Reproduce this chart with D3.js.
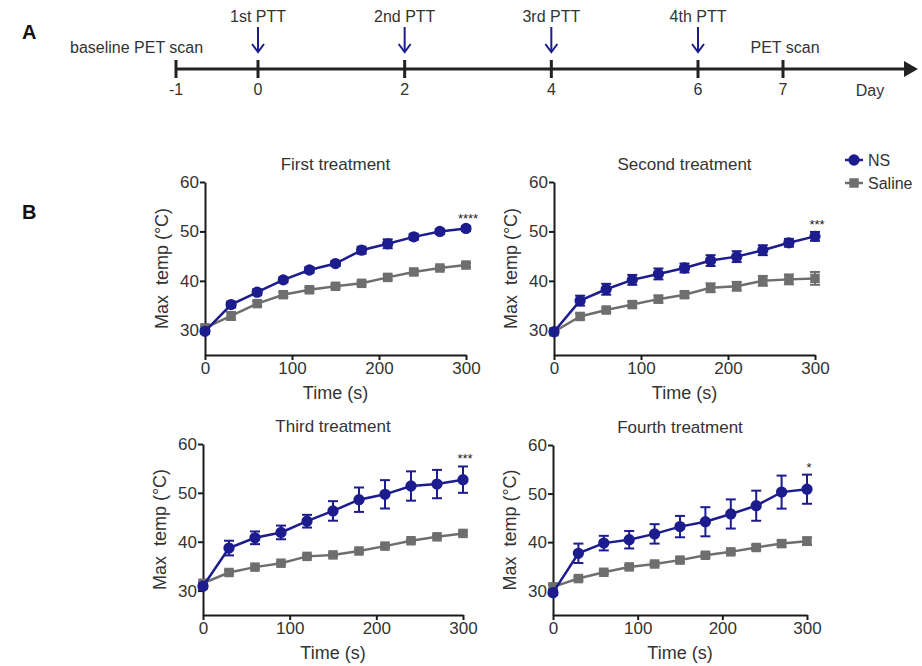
<!DOCTYPE html>
<html>
<head>
<meta charset="utf-8">
<script src="https://cdn.jsdelivr.net/npm/d3@7"></script>
<style>
  body { margin: 0; background: #fff; }
  svg text { font-family: "Liberation Sans", Arial, sans-serif; fill: #333; }
</style>
</head>
<body>
<div id="viz"></div>
<script>
// ---- data ----
var timelineDays = [-1, 0, 2, 4, 6, 7];
var pttDays = [0, 2, 4, 6];
var pttLabels = ["1st PTT", "2nd PTT", "3rd PTT", "4th PTT"];

var times = [0, 30, 60, 90, 120, 150, 180, 210, 240, 270, 300];
var yTicks = [30, 40, 50, 60];
var xTicks = [0, 100, 200, 300];

var panelTitles = ["First treatment", "Second treatment", "Third treatment", "Fourth treatment"];
var stars = ["****", "***", "***", "*"];
var seriesNames = ["NS", "Saline"];

var nsFirst        = [29.8, 35.2, 37.7, 40.2, 42.2, 43.5, 46.2, 47.5, 48.9, 50.0, 50.6];
var nsFirstErr     = [0.5, 0.6, 0.6, 0.5, 0.6, 0.5, 0.7, 0.9, 0.6, 0.5, 0.5];
var salFirst       = [30.5, 32.9, 35.4, 37.2, 38.2, 38.9, 39.5, 40.7, 41.8, 42.6, 43.2];
var salFirstErr    = [0.4, 0.8, 0.5, 0.5, 0.5, 0.4, 0.4, 0.5, 0.5, 0.4, 0.4];

var nsSecond       = [29.7, 36.0, 38.3, 40.2, 41.4, 42.6, 44.1, 44.9, 46.2, 47.7, 49.0];
var nsSecondErr    = [0.4, 1.0, 1.1, 1.0, 1.1, 0.9, 1.1, 1.1, 1.0, 0.8, 0.9];
var salSecond      = [29.7, 32.8, 34.1, 35.2, 36.3, 37.2, 38.6, 38.9, 40.0, 40.3, 40.5];
var salSecondErr   = [0.4, 0.6, 0.5, 0.6, 0.7, 0.6, 0.9, 0.9, 1.0, 1.0, 1.3];

var nsThird        = [30.9, 38.7, 40.8, 41.9, 44.2, 46.3, 48.6, 49.7, 51.4, 51.8, 52.7];
var nsThirdErr     = [0.5, 1.5, 1.3, 1.4, 1.3, 2.0, 2.5, 2.9, 3.0, 2.9, 2.7];
var salThird       = [31.5, 33.7, 34.8, 35.6, 37.0, 37.3, 38.1, 39.1, 40.2, 41.0, 41.7];
var salThirdErr    = [0.3, 0.4, 0.3, 0.3, 0.3, 0.3, 0.3, 0.3, 0.3, 0.3, 0.4];

var nsFourth       = [29.6, 37.7, 39.8, 40.5, 41.7, 43.2, 44.2, 45.8, 47.5, 50.3, 50.9];
var nsFourthErr    = [0.5, 2.0, 1.5, 1.8, 2.0, 2.2, 3.0, 3.0, 3.1, 3.4, 3.0];
var salFourth      = [30.8, 32.5, 33.8, 34.9, 35.5, 36.3, 37.3, 38.0, 38.9, 39.7, 40.2];
var salFourthErr   = [0.5, 0.4, 0.4, 0.4, 0.4, 0.4, 0.4, 0.4, 0.5, 0.6, 0.8];

// ---- layout ----
var W = 922, H = 666;
var nsColor = "#1c1c8f", salColor = "#6e6e6e", axisColor = "#1a1a1a";

var panels = [
  {x0: 205, x1: 466, yTop: 182, yBot: 355, ns: nsFirst, nsErr: nsFirstErr, sal: salFirst, salErr: salFirstErr},
  {x0: 554, x1: 815, yTop: 182, yBot: 355, ns: nsSecond, nsErr: nsSecondErr, sal: salSecond, salErr: salSecondErr},
  {x0: 203, x1: 463, yTop: 444, yBot: 615, ns: nsThird, nsErr: nsThirdErr, sal: salThird, salErr: salThirdErr},
  {x0: 553, x1: 807, yTop: 445, yBot: 615, ns: nsFourth, nsErr: nsFourthErr, sal: salFourth, salErr: salFourthErr}
];

var svg = d3.select("#viz")
  .append("svg")
  .attr("width", W)
  .attr("height", H);

// ---- panel A: timeline ----
var tl = d3.scaleLinear()
  .domain([-1, 0, 6, 7])
  .range([176, 258, 698, 783]);
var lineY = 69;

svg.append("text").text("A")
  .attr("x", 22).attr("y", 39)
  .style("font-size", "20px").style("font-weight", "bold").style("fill", "#111");

svg.append("line")
  .attr("x1", tl(-1)).attr("x2", 906)
  .attr("y1", lineY).attr("y2", lineY)
  .attr("stroke", "#222").attr("stroke-width", 3);
svg.append("path")
  .attr("d", "M904," + (lineY - 8) + " L918," + lineY + " L904," + (lineY + 8) + " Z")
  .attr("fill", "#222");

svg.selectAll(".dayTick").data(timelineDays).enter()
  .append("line")
  .attr("class", "dayTick")
  .attr("x1", function(d) { return tl(d); })
  .attr("x2", function(d) { return tl(d); })
  .attr("y1", lineY - 9).attr("y2", lineY + 9)
  .attr("stroke", "#222").attr("stroke-width", 3);

svg.selectAll(".dayLabel").data(timelineDays).enter()
  .append("text")
  .attr("class", "dayLabel")
  .attr("x", function(d) { return tl(d); })
  .attr("y", 95)
  .attr("text-anchor", "middle")
  .style("font-size", "16px")
  .text(function(d) { return d; });

svg.append("text").text("Day")
  .attr("x", 870).attr("y", 96).attr("text-anchor", "middle")
  .style("font-size", "16px");

svg.append("text").text("baseline PET scan")
  .attr("x", 70).attr("y", 53)
  .style("font-size", "16px");
svg.append("text").text("PET scan")
  .attr("x", tl(7) + 2).attr("y", 53).attr("text-anchor", "middle")
  .style("font-size", "16px");

// treatment arrows
var arrows = svg.selectAll(".ptt").data(pttDays).enter()
  .append("g")
  .attr("class", "ptt")
  .attr("transform", function(d) { return "translate(" + tl(d) + ",0)"; });
arrows.append("text")
  .attr("y", 22).attr("text-anchor", "middle")
  .style("font-size", "16px")
  .text(function(d, i) { return pttLabels[i]; });
arrows.append("line")
  .attr("x1", 0).attr("x2", 0).attr("y1", 27).attr("y2", 52)
  .attr("stroke", nsColor).attr("stroke-width", 2);
arrows.append("path")
  .attr("d", "M-6,44 L0,52 L6,44")
  .attr("fill", "none").attr("stroke", nsColor).attr("stroke-width", 2);

// ---- panel B: temperature curves ----
svg.append("text").text("B")
  .attr("x", 22).attr("y", 219)
  .style("font-size", "20px").style("font-weight", "bold").style("fill", "#111");

panels.forEach(function(p, k) {
  var x = d3.scaleLinear().domain([0, 300]).range([p.x0, p.x1]);
  var y = d3.scaleLinear().domain([25, 60]).range([p.yBot, p.yTop]);
  var g = svg.append("g");

  // axes
  var ax = g.append("g")
    .attr("transform", "translate(0," + p.yBot + ")")
    .call(d3.axisBottom(x).tickValues(xTicks).tickSize(5).tickSizeOuter(0).tickPadding(2));
  var ay = g.append("g")
    .attr("transform", "translate(" + p.x0 + ",0)")
    .call(d3.axisLeft(y).tickValues(yTicks).tickSize(5).tickSizeOuter(0).tickPadding(1));
  [ax, ay].forEach(function(a) {
    a.select(".domain").attr("stroke", axisColor).attr("stroke-width", 2);
    a.selectAll(".tick line").attr("stroke", axisColor).attr("stroke-width", 2);
    a.selectAll(".tick text").style("font-size", "17px").style("font-family", "Liberation Sans, Arial, sans-serif").attr("fill", "#333");
  });

  // titles and labels
  var cx = (p.x0 + p.x1) / 2;
  g.append("text").text(panelTitles[k])
    .attr("x", cx).attr("y", p.yTop - 12)
    .attr("text-anchor", "middle").style("font-size", "17px");
  g.append("text").text("Time (s)")
    .attr("x", cx).attr("y", p.yBot + 44)
    .attr("text-anchor", "middle").style("font-size", "18px");
  g.append("text").text("Max  temp (°C)")
    .attr("transform", "translate(" + (p.x0 - 37) + "," + ((p.yTop + p.yBot) / 2) + ") rotate(-90)")
    .attr("text-anchor", "middle").style("font-size", "18px").style("white-space", "pre");

  var groups = [
    {vals: p.sal, errs: p.salErr, color: salColor, shape: "square"},
    {vals: p.ns, errs: p.nsErr, color: nsColor, shape: "circle"}
  ];

  groups.forEach(function(s) {
    var pts = times.map(function(t, i) { return {t: t, v: s.vals[i], e: s.errs[i]}; });

    // error bars
    var eb = g.append("g").selectAll("g").data(pts).enter().append("g")
      .attr("stroke", s.color).attr("stroke-width", 2);
    eb.append("line")
      .attr("x1", function(d) { return x(d.t); }).attr("x2", function(d) { return x(d.t); })
      .attr("y1", function(d) { return y(d.v - d.e); }).attr("y2", function(d) { return y(d.v + d.e); });
    eb.append("line")
      .attr("x1", function(d) { return x(d.t) - 5; }).attr("x2", function(d) { return x(d.t) + 5; })
      .attr("y1", function(d) { return y(d.v + d.e); }).attr("y2", function(d) { return y(d.v + d.e); });
    eb.append("line")
      .attr("x1", function(d) { return x(d.t) - 5; }).attr("x2", function(d) { return x(d.t) + 5; })
      .attr("y1", function(d) { return y(d.v - d.e); }).attr("y2", function(d) { return y(d.v - d.e); });

    g.append("path").datum(pts)
      .attr("fill", "none")
      .attr("stroke", s.color)
      .attr("stroke-width", 2.5)
      .attr("d", d3.line()
        .x(function(d) { return x(d.t); })
        .y(function(d) { return y(d.v); }));

    var sym = d3.symbol().type(s.shape === "circle" ? d3.symbolCircle : d3.symbolSquare)
      .size(s.shape === "circle" ? 100 : 90);
    g.append("g").selectAll("path").data(pts).enter()
      .append("path")
      .attr("d", sym)
      .attr("transform", function(d) { return "translate(" + x(d.t) + "," + y(d.v) + ")"; })
      .attr("fill", s.color);
  });

  // significance marker at 300 s
  var last = times.length - 1;
  g.append("text").text(stars[k])
    .attr("x", x(300) + 2).attr("y", y(p.ns[last] + p.nsErr[last]) - 3)
    .attr("text-anchor", "middle")
    .style("font-size", "13px").style("fill", "#222");
});

// legend
var legend = svg.append("g").attr("transform", "translate(845,0)");
[{name: seriesNames[0], color: nsColor, type: d3.symbolCircle, size: 100, y: 160},
 {name: seriesNames[1], color: salColor, type: d3.symbolSquare, size: 90, y: 183}].forEach(function(l) {
  legend.append("line")
    .attr("x1", 0).attr("x2", 18).attr("y1", l.y).attr("y2", l.y)
    .attr("stroke", l.color).attr("stroke-width", 2.5);
  legend.append("path")
    .attr("d", d3.symbol().type(l.type).size(l.size))
    .attr("transform", "translate(9," + l.y + ")")
    .attr("fill", l.color);
  legend.append("text").text(l.name)
    .attr("x", 23).attr("y", l.y + 6)
    .style("font-size", "16px");
});
</script>
</body>
</html>
